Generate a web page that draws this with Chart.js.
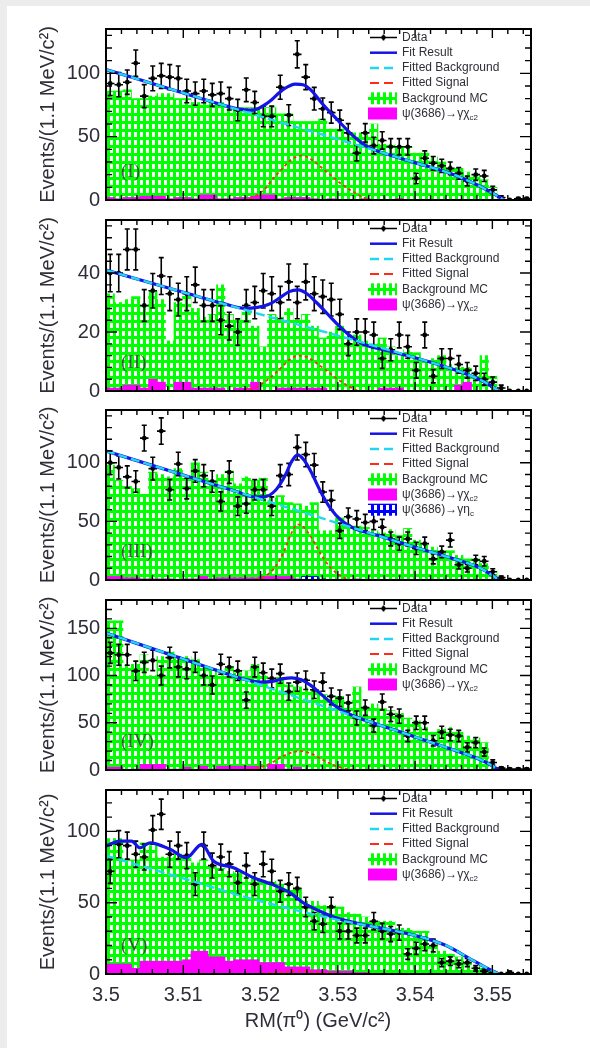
<!DOCTYPE html>
<html>
<head>
<meta charset="utf-8">
<title>RM(pi0) spectra</title>
<script src="https://cdn.jsdelivr.net/npm/chart.js@4.4.0/dist/chart.umd.min.js"></script>
<style>
  body { margin: 0; width: 590px; height: 1048px; background: #fff; position: relative; overflow: hidden; }
  .band-top { position: absolute; left: 0; top: 0; width: 590px; height: 6px; background: #ececec; }
  .band-left { position: absolute; left: 0; top: 0; width: 7px; height: 1048px; background: #ececec; }
  canvas { position: absolute; left: 0; }
</style>
</head>
<body>
<div class="band-top"></div>
<div class="band-left"></div>
<script>
'use strict'

// *********BINNING / AXES***********

const binLow = 3.5;
const binWidth = 0.0011;
const nBins = 50;
const xTicks = [3.5, 3.51, 3.52, 3.53, 3.54, 3.55];

// *********PANEL (I)***********

const yTicks1 = [0, 50, 100];
const data1 = [92, 91, 93, 108, 82, 96, 98, 97, 96, 86, 84, 86, 83, 84, 80, 71, 87, 77, 66, 66,
  89, 67, 115, 97, 80, 72, 69, 63, 53, 37, 53, 43, 47, 42, 42, 42, 17, 33, 29, 27,
  25, 21, 15, 20, 19, 8, 2, 0, 1, 1];
const bkgMc1 = [86, 86, 87, 80, 80, 82, 84, 84, 80, 80, 77, 77, 77, 77, 73, 73, 73, 73, 73, 73,
  68, 68, 62, 62, 62, 64, 56, 56, 53, 53, 53, 60, 44, 44, 42, 42, 37, 37, 34, 30,
  27, 25, 22, 19, 16, 10, 0, 0, 0, 0];
const psi1 = [2, 1, 2, 2, 3, 3, 3, 1, 2, 2, 1, 4, 4, 1, 1, 2, 2, 3, 4, 4,
  1, 2, 2, 2, 1, 0, 1, 0, 0, 0, 1, 0, 0, 0, 1, 0, 0, 0, 0, 0,
  0, 0, 0, 0, 0, 0, 0, 0, 0, 0];
const bgX1 = [3.5, 3.51, 3.52, 3.53, 3.54, 3.545, 3.548, 3.55, 3.551, 3.5515];
const bgY1 = [103, 84.5, 66, 48, 29.5, 20, 12, 5.5, 2, 0];
const fitX1 = [3.5, 3.51, 3.514, 3.517, 3.519, 3.521, 3.523, 3.5245, 3.5255, 3.5265, 3.528,
  3.53, 3.532, 3.534, 3.537, 3.54, 3.545, 3.548, 3.55, 3.551, 3.5515];
const fitY1 = [103, 84.5, 77, 72, 71, 77, 87.5, 91.5, 91, 87, 76, 63, 50.5, 41.5, 35, 29.5, 20, 12, 5.5, 2, 0];
const sigX1 = [3.5, 3.516, 3.5187, 3.5205, 3.5217, 3.5228, 3.5238, 3.5246, 3.5253, 3.526, 3.5268,
  3.528, 3.529, 3.5305, 3.532, 3.5335, 3.535, 3.555];
const sigY1 = [0, 0, 1.5, 8.5, 17.5, 24.5, 31, 34, 35, 34, 31, 25, 20, 12.5, 6.5, 1.5, 0, 0];

// *********PANEL (II)***********

const yTicks2 = [0, 20, 40];
const data2 = [40, 40, 48, 48, 29, 34, 39, 33, 31, 33, 36, 29, 29, 24, 22, 20, 29, 30, 34, 33,
  30, 37, 30, 37, 33, 32, 31, 26, 16, 20, 20, 19, 11, 14, 19, 15, 7, 19, 5, 11,
  11, 9, 7, 6, 4, 3, 1, 0, 0, 0];
const bkgMc2 = [33, 30, 31, 32, 29, 34, 31, 17, 30, 33, 28, 25, 26, 36, 26, 24, 27, 22, 15, 26,
  25, 28, 24, 26, 22, 18, 20, 22, 18, 19, 17, 16, 18, 15, 12, 14, 13, 10, 11, 12,
  9, 8, 8, 6, 12, 5, 0, 0, 0, 0];
const psi2 = [1, 1, 2, 2, 1, 4, 3, 0, 3, 3, 1, 1, 1, 1, 0, 1, 1, 3, 0, 0,
  1, 1, 1, 1, 1, 1, 0, 0, 0, 0, 0, 0, 1, 1, 1, 0, 0, 0, 0, 0,
  0, 2, 3, 0, 0, 0, 0, 0, 0, 0];
const bgX2 = [3.5, 3.51, 3.52, 3.53, 3.54, 3.545, 3.548, 3.55, 3.5508];
const bgY2 = [41, 33.5, 26, 18.8, 11.3, 7.3, 4.3, 1.5, 0];
const fitX2 = [3.5, 3.51, 3.515, 3.518, 3.521, 3.5225, 3.5237, 3.5249, 3.526, 3.5272, 3.5285,
  3.53, 3.5315, 3.533, 3.537, 3.54, 3.545, 3.548, 3.55, 3.5508];
const fitY2 = [41, 33.5, 29.8, 28, 29.3, 31.6, 33.7, 34.3, 33, 30.1, 26.6, 22.5, 18.9, 16.3, 13.3, 11.3, 7.3, 4.3, 1.5, 0];
const sigX2 = [3.5, 3.5165, 3.519, 3.521, 3.5225, 3.5237, 3.5249, 3.526, 3.5272, 3.5285, 3.53, 3.5315, 3.533, 3.555];
const sigY2 = [0, 0, 1, 4, 7.5, 10.5, 12, 11.5, 9.5, 7, 4, 1.5, 0, 0];

// *********PANEL (III)***********

const yTicks3 = [0, 50, 100];
const data3 = [100, 96, 88, 84, 121, 95, 127, 77, 99, 78, 93, 89, 84, 67, 92, 63, 65, 77, 77, 63,
  89, 90, 113, 107, 98, 75, 68, 42, 54, 52, 49, 50, 45, 35, 31, 35, 27, 31, 18, 24,
  34, 13, 10, 17, 16, 7, 2, 0, 0, 0];
const bkgMc3 = [98, 85, 80, 78, 73, 92, 90, 88, 95, 87, 100, 92, 85, 90, 93, 82, 88, 85, 87, 70,
  72, 66, 65, 63, 66, 42, 42, 53, 48, 46, 45, 42, 40, 43, 38, 44, 34, 30, 28, 25,
  25, 21, 18, 18, 14, 8, 0, 0, 0, 0];
const psi3 = [3, 3, 2, 2, 1, 1, 1, 1, 0, 1, 1, 3, 1, 2, 2, 2, 2, 2, 3, 3,
  3, 3, 1, 0, 0, 0, 0, 0, 0, 1, 0, 0, 0, 0, 0, 0, 0, 0, 0, 0,
  0, 0, 0, 0, 0, 0, 0, 0, 0, 0];
const eta3 = [0, 0, 0, 0, 0, 0, 0, 0, 0, 0, 0, 0, 0, 0, 0, 0, 0, 0, 0, 0,
  0, 0, 0, 3, 3, 1, 0, 0, 0, 0, 0, 0, 0, 0, 0, 0, 0, 0, 0, 0,
  0, 0, 0, 0, 0, 0, 0, 0, 0, 0];
const bgX3 = [3.5, 3.51, 3.52, 3.53, 3.54, 3.545, 3.548, 3.55, 3.5508];
const bgY3 = [110, 89.5, 69, 48.5, 28, 18, 11.5, 4, 0];
const fitX3 = [3.5, 3.51, 3.514, 3.517, 3.519, 3.5205, 3.522, 3.5232, 3.524, 3.5248, 3.5256, 3.5265,
  3.5278, 3.529, 3.5305, 3.532, 3.535, 3.54, 3.545, 3.548, 3.55, 3.5508];
const fitY3 = [110, 89.5, 81.3, 75.2, 71, 71, 77, 89.4, 100.8, 106.7, 102.5, 92.7, 75, 61.5, 50.5, 44.4, 38.3, 28, 18, 11.5, 4, 0];
const sigX3 = [3.5, 3.518, 3.5205, 3.522, 3.5232, 3.524, 3.5248, 3.5256, 3.5265, 3.5278, 3.529, 3.5305, 3.532, 3.555];
const sigY3 = [0, 0, 3, 12, 27, 40, 47.5, 45, 37, 22, 11, 3, 0, 0];

// *********PANEL (IV)***********

const yTicks4 = [0, 50, 100, 150];
const data4 = [124, 122, 122, 105, 114, 116, 100, 119, 109, 107, 114, 100, 90, 112, 109, 105, 74, 109, 103, 97,
  102, 83, 93, 95, 85, 93, 78, 76, 71, 55, 66, 47, 72, 59, 57, 36, 50, 50, 31, 40,
  37, 36, 24, 29, 19, 8, 2, 1, 1, 1];
const bkgMc4 = [158, 158, 112, 112, 122, 100, 120, 125, 118, 120, 117, 110, 107, 100, 110, 103, 105, 112, 100, 85,
  98, 90, 88, 87, 85, 80, 75, 78, 72, 88, 66, 70, 65, 63, 60, 55, 52, 45, 40, 43,
  45, 40, 36, 34, 29, 2, 0, 0, 0, 0];
const psi4 = [3, 3, 0, 1, 6, 6, 6, 1, 1, 3, 0, 4, 1, 4, 4, 4, 4, 4, 1, 6,
  6, 1, 3, 0, 0, 0, 0, 0, 0, 0, 0, 0, 0, 0, 0, 0, 0, 0, 0, 0,
  0, 0, 0, 0, 0, 0, 0, 0, 0, 0];
const bgX4 = [3.5, 3.51, 3.52, 3.53, 3.54, 3.545, 3.548, 3.55, 3.5508];
const bgY4 = [145, 117.5, 90, 62.5, 35, 21.2, 12.5, 4.5, 0];
const fitX4 = [3.5, 3.51, 3.514, 3.5175, 3.52, 3.5215, 3.523, 3.524, 3.5252, 3.5265, 3.528, 3.5295,
  3.531, 3.533, 3.537, 3.54, 3.545, 3.548, 3.55, 3.5508];
const fitY4 = [145, 117.5, 106.5, 96.9, 93, 93.9, 96.8, 97.5, 95.7, 89.6, 79, 68.9, 61.3, 54.3, 43.3, 35, 21.2, 12.5, 4.5, 0];
const sigX4 = [3.5, 3.5175, 3.52, 3.5215, 3.523, 3.524, 3.5252, 3.5265, 3.528, 3.5295, 3.531, 3.533, 3.555];
const sigY4 = [0, 0, 3, 8, 15, 18.5, 20, 17.5, 11, 5, 1.5, 0, 0];

// *********PANEL (V)***********

const yTicks5 = [0, 50, 100];
const data5 = [72, 91, 90, 84, 82, 101, 112, 84, 90, 83, 63, 90, 76, 82, 77, 64, 76, 63, 77, 72,
  58, 63, 60, 47, 37, 35, 47, 30, 30, 27, 27, 37, 30, 28, 29, 14, 18, 21, 20, 8,
  9, 7, 8, 4, 2, 1, 0, 1, 0, 0];
const bkgMc5 = [95, 95, 80, 80, 92, 90, 82, 82, 84, 84, 78, 80, 75, 74, 72, 71, 68, 67, 65, 65,
  63, 62, 60, 51, 51, 48, 48, 47, 43, 42, 40, 37, 37, 37, 32, 32, 30, 30, 21, 16,
  14, 12, 9, 6, 4, 2, 0, 0, 0, 0];
const psi5 = [7, 7, 7, 4, 9, 9, 9, 9, 9, 10, 16, 16, 12, 12, 9, 10, 10, 10, 8, 8,
  8, 5, 5, 5, 3, 3, 2, 2, 2, 1, 1, 0, 0, 0, 0, 0, 0, 0, 0, 0,
  0, 0, 0, 0, 0, 0, 0, 0, 0, 0];
const bgX5 = [3.5, 3.51, 3.52, 3.53, 3.54, 3.544, 3.547, 3.549, 3.5508];
const bgY5 = [83, 67, 51, 38, 27, 20, 11, 5, 0];
const fitX5 = [3.5, 3.5018, 3.5033, 3.5044, 3.5057, 3.5083, 3.5104, 3.5124, 3.5139, 3.5165, 3.5191,
  3.5214, 3.5238, 3.5255, 3.5281, 3.53, 3.54, 3.544, 3.547, 3.549, 3.5508];
const fitY5 = [89.7, 93.2, 93.2, 88.5, 92, 87.4, 81.5, 90.9, 79.2, 74.5, 67.5, 63, 57, 50, 43, 39, 27, 20, 11, 5, 0];
const sigX5 = [3.5, 3.519, 3.522, 3.525, 3.528, 3.531, 3.555];
const sigY5 = [0, 0, 1, 2, 1, 0, 0];

// *********LEGEND TEXT***********

const legendBase = [
  {kind: 'data', text: 'Data'},
  {kind: 'fit', text: 'Fit Result'},
  {kind: 'bg', text: 'Fitted Background'},
  {kind: 'sig', text: 'Fitted Signal'},
  {kind: 'green', text: 'Background MC'},
  {kind: 'magenta', text: 'ψ(3686)→γχ', sub: 'c2'}
];
const legendEta = {kind: 'blue', text: 'ψ(3686)→γη', sub: 'c'};

// *********LAYOUT***********

const PAD = 16;
const FONT = "'Liberation Sans', Arial, sans-serif";
const TEXT_COLOR = '#2e2e38';

let panels = [
  {label: '(I)', top: 27, bottom: 202, yMax: 135, yMinor: 10, yTicks: yTicks1, data: data1, bkg: bkgMc1, psi: psi1, eta: null,
    bgX: bgX1, bgY: bgY1, fitX: fitX1, fitY: fitY1, sigX: sigX1, sigY: sigY1},
  {label: '(II)', top: 218, bottom: 393, yMax: 58, yMinor: 4, yTicks: yTicks2, data: data2, bkg: bkgMc2, psi: psi2, eta: null,
    bgX: bgX2, bgY: bgY2, fitX: fitX2, fitY: fitY2, sigX: sigX2, sigY: sigY2},
  {label: '(III)', top: 408, bottom: 582, yMax: 145, yMinor: 10, yTicks: yTicks3, data: data3, bkg: bkgMc3, psi: psi3, eta: eta3,
    bgX: bgX3, bgY: bgY3, fitX: fitX3, fitY: fitY3, sigX: sigX3, sigY: sigY3},
  {label: '(IV)', top: 598, bottom: 772, yMax: 180, yMinor: 10, yTicks: yTicks4, data: data4, bkg: bkgMc4, psi: psi4, eta: null,
    bgX: bgX4, bgY: bgY4, fitX: fitX4, fitY: fitY4, sigX: sigX4, sigY: sigY4},
  {label: '(V)', top: 788, bottom: 974, yMax: 129, yMinor: 10, yTicks: yTicks5, data: data5, bkg: bkgMc5, psi: psi5, eta: null,
    bgX: bgX5, bgY: bgY5, fitX: fitX5, fitY: fitY5, sigX: sigX5, sigY: sigY5}
];

// ********HELPER FUNCTIONS*********

let binCenters = [];
for (let i = 0; i < nBins; i++) {
  binCenters.push(binLow + binWidth * (i + 0.5));
}

function toPoints(xs, ys) {
  return xs.map((x, i) => ({x: x, y: ys[i]}));
}

function histPoints(values) {
  return binCenters.map((x, i) => ({x: x, y: values[i]}));
}

// ROOT-like hatch: coloured fill with small white dashes
function makeHatch(ctx, color) {
  let tile = document.createElement('canvas');
  tile.width = 6;
  tile.height = 8;
  let g = tile.getContext('2d');
  g.fillStyle = color;
  g.fillRect(0, 0, 6, 8);
  g.fillStyle = '#ffffff';
  g.fillRect(2, 1, 3, 5);
  return ctx.createPattern(tile, 'repeat');
}

// *********PLUGINS*********

// vertical + horizontal error bars for the data points
const errorBarPlugin = {
  id: 'errorBars',
  afterDatasetDraw(chart, args) {
    let ds = chart.data.datasets[args.index];
    if (ds.label !== 'Data') return;
    let ctx = chart.ctx;
    let a = chart.chartArea;
    let xs = chart.scales.x;
    let ys = chart.scales.y;
    ctx.save();
    ctx.beginPath();
    ctx.rect(a.left, a.top, a.right - a.left, a.bottom - a.top);
    ctx.clip();
    ctx.strokeStyle = '#000';
    ctx.lineWidth = 1.6;
    ds.data.forEach(pt => {
      let px = xs.getPixelForValue(pt.x);
      let xl = xs.getPixelForValue(pt.x - binWidth / 2);
      let xr = xs.getPixelForValue(pt.x + binWidth / 2);
      let py = ys.getPixelForValue(pt.y);
      let err = Math.sqrt(pt.y);
      ctx.beginPath();
      ctx.moveTo(xl, py);
      ctx.lineTo(xr, py);
      if (err > 0) {
        let yt = ys.getPixelForValue(pt.y + err);
        let yb = ys.getPixelForValue(pt.y - err);
        ctx.moveTo(px, yt);
        ctx.lineTo(px, yb);
        ctx.moveTo(px - 2.5, yt);
        ctx.lineTo(px + 2.5, yt);
        ctx.moveTo(px - 2.5, yb);
        ctx.lineTo(px + 2.5, yb);
      }
      ctx.stroke();
    });
    ctx.restore();
  }
};

function drawSample(ctx, kind, x0, x1, y, pats) {
  ctx.save();
  if (kind === 'data') {
    ctx.strokeStyle = '#000';
    ctx.lineWidth = 1.6;
    ctx.beginPath();
    ctx.moveTo(x0, y);
    ctx.lineTo(x1, y);
    ctx.moveTo((x0 + x1) / 2, y - 3);
    ctx.lineTo((x0 + x1) / 2, y + 3);
    ctx.stroke();
    ctx.fillStyle = '#000';
    ctx.beginPath();
    ctx.arc((x0 + x1) / 2, y, 2.2, 0, Math.PI * 2);
    ctx.fill();
  } else if (kind === 'fit' || kind === 'bg' || kind === 'sig') {
    ctx.strokeStyle = kind === 'fit' ? '#1414e6' : (kind === 'bg' ? '#22d6f2' : '#ff2a1a');
    ctx.lineWidth = kind === 'sig' ? 2 : 2.5;
    if (kind !== 'fit') ctx.setLineDash([9, 5]);
    ctx.beginPath();
    ctx.moveTo(x0, y);
    ctx.lineTo(x1, y);
    ctx.stroke();
  } else {
    ctx.fillStyle = kind === 'green' ? pats.green : (kind === 'blue' ? pats.blue : '#ff00ff');
    ctx.fillRect(x0 - 2, y - 6, x1 - x0 + 2, 12);
  }
  ctx.restore();
}

function makeFramePlugin(p, isLast, canvasTop, pats) {
  return {
    id: 'rootFrame',
    afterDraw(chart) {
      let ctx = chart.ctx;
      let a = chart.chartArea;
      let xs = chart.scales.x;
      let ys = chart.scales.y;
      ctx.save();

      // ticks, inside the frame on all four sides
      ctx.strokeStyle = '#000';
      ctx.lineWidth = 1.4;
      ctx.beginPath();
      for (let k = 0; k <= 27; k++) {
        let v = binLow + k * 0.002;
        let px = xs.getPixelForValue(v);
        let len = k % 5 === 0 ? 9 : 5;
        ctx.moveTo(px, a.bottom);
        ctx.lineTo(px, a.bottom - len);
        ctx.moveTo(px, a.top);
        ctx.lineTo(px, a.top + len);
      }
      let majorStep = p.yTicks[1] - p.yTicks[0];
      for (let k = 0; k * p.yMinor <= p.yMax; k++) {
        let v = k * p.yMinor;
        let py = ys.getPixelForValue(v);
        let len = (v % majorStep === 0) ? 11 : 6;
        ctx.moveTo(a.left, py);
        ctx.lineTo(a.left + len, py);
        ctx.moveTo(a.right, py);
        ctx.lineTo(a.right - len, py);
      }
      ctx.stroke();

      // frame
      ctx.lineWidth = 2;
      ctx.strokeRect(a.left, a.top, a.right - a.left, a.bottom - a.top);

      // legend
      let entries = legendBase.slice();
      if (p.eta) entries.push(legendEta);
      let x0 = a.right - 161;
      let x1 = a.right - 134;
      let tx = a.right - 129;
      entries.forEach((e, k) => {
        let y = a.top + 8.5 + k * 15.2;
        drawSample(ctx, e.kind, x0, x1, y, pats);
        ctx.fillStyle = TEXT_COLOR;
        ctx.font = '12px ' + FONT;
        ctx.textAlign = 'left';
        ctx.textBaseline = 'middle';
        ctx.fillText(e.text, tx, y);
        if (e.sub) {
          let w = ctx.measureText(e.text).width;
          ctx.font = '8px ' + FONT;
          ctx.fillText(e.sub, tx + w, y + 4);
        }
      });

      // panel label
      ctx.fillStyle = 'rgba(60, 60, 60, 0.85)';
      ctx.font = "19px 'Liberation Serif', 'Times New Roman', serif";
      ctx.textAlign = 'left';
      ctx.textBaseline = 'middle';
      ctx.fillText(p.label, a.left + 15, a.bottom - 28);

      // y title
      ctx.save();
      ctx.translate(48, (a.top + a.bottom) / 2);
      ctx.rotate(-Math.PI / 2);
      ctx.fillStyle = TEXT_COLOR;
      ctx.font = '20px ' + FONT;
      ctx.textAlign = 'center';
      ctx.textBaseline = 'middle';
      ctx.fillText('Events/(1.1 MeV/c²)', 0, 0);
      ctx.restore();

      // x title under the last panel
      if (isLast) {
        ctx.fillStyle = TEXT_COLOR;
        ctx.font = '20px ' + FONT;
        ctx.textAlign = 'center';
        ctx.textBaseline = 'middle';
        ctx.fillText('RM(π⁰) (GeV/c²)', 318, 1021 - canvasTop);
      }
      ctx.restore();
    }
  };
}

// ********RENDER*********

Chart.defaults.font.family = FONT;

function renderPanel(p, idx) {
  let isLast = idx === panels.length - 1;
  let canvasTop = p.top - PAD;
  let canvasH = isLast ? 1048 - canvasTop : (p.bottom - p.top) + 2 * PAD;

  let canvas = document.createElement('canvas');
  canvas.width = 590;
  canvas.height = canvasH;
  canvas.style.top = canvasTop + 'px';
  canvas.style.width = '590px';
  canvas.style.height = canvasH + 'px';
  document.body.appendChild(canvas);
  let ctx = canvas.getContext('2d');

  let pats = {green: makeHatch(ctx, '#00ff00'), blue: makeHatch(ctx, '#0000ff')};

  let datasets = [
    {type: 'bar', label: 'Background MC', data: histPoints(p.bkg), backgroundColor: pats.green,
      borderWidth: 0, grouped: false, barPercentage: 1, categoryPercentage: 1, order: 6},
    {type: 'bar', label: 'psi chi_c2', data: histPoints(p.psi), backgroundColor: '#ff00ff',
      borderWidth: 0, grouped: false, barPercentage: 1, categoryPercentage: 1, order: 5}
  ];
  if (p.eta) {
    datasets.push({type: 'bar', label: 'psi eta_c', data: histPoints(p.eta), backgroundColor: pats.blue,
      borderWidth: 0, grouped: false, barPercentage: 1, categoryPercentage: 1, order: 5});
  }
  datasets.push(
    {type: 'line', label: 'Data', data: histPoints(p.data), showLine: false, pointRadius: 2.4,
      pointBackgroundColor: '#000', pointBorderWidth: 0, order: 4},
    {type: 'line', label: 'Fit Result', data: toPoints(p.fitX, p.fitY), borderColor: '#1414e6',
      borderWidth: 3.2, pointRadius: 0, cubicInterpolationMode: 'monotone', order: 3},
    {type: 'line', label: 'Fitted Background', data: toPoints(p.bgX, p.bgY), borderColor: '#22d6f2',
      borderWidth: 2.4, borderDash: [9, 4], pointRadius: 0, cubicInterpolationMode: 'monotone', order: 2},
    {type: 'line', label: 'Fitted Signal', data: toPoints(p.sigX, p.sigY), borderColor: '#ff2a1a',
      borderWidth: 1.8, borderDash: [3, 3], pointRadius: 0, cubicInterpolationMode: 'monotone', order: 1}
  );

  new Chart(canvas, {
    type: 'bar',
    data: {datasets: datasets},
    options: {
      responsive: false,
      animation: false,
      devicePixelRatio: 1,
      layout: {padding: {left: 0, right: 59, top: PAD, bottom: isLast ? 0 : PAD}},
      plugins: {legend: {display: false}, tooltip: {enabled: false}},
      scales: {
        x: {
          type: 'linear',
          min: 3.5,
          max: 3.555,
          offset: false,
          display: isLast,
          grid: {display: false, drawTicks: false},
          border: {display: false},
          ticks: {
            font: {size: 20},
            color: TEXT_COLOR,
            padding: 9,
            maxRotation: 0,
            callback: v => String(+Number(v).toFixed(3))
          },
          afterBuildTicks: s => { s.ticks = xTicks.map(v => ({value: v})); },
          afterFit: s => { if (isLast) s.height = 1048 - p.bottom; }
        },
        y: {
          min: 0,
          max: p.yMax,
          grid: {display: false, drawTicks: false},
          border: {display: false},
          ticks: {font: {size: 20}, color: TEXT_COLOR, padding: 6},
          afterBuildTicks: s => { s.ticks = p.yTicks.map(v => ({value: v})); },
          afterFit: s => { s.width = 106; }
        }
      }
    },
    plugins: [errorBarPlugin, makeFramePlugin(p, isLast, canvasTop, pats)]
  });
}

panels.forEach(renderPanel);
</script>
</body>
</html>
